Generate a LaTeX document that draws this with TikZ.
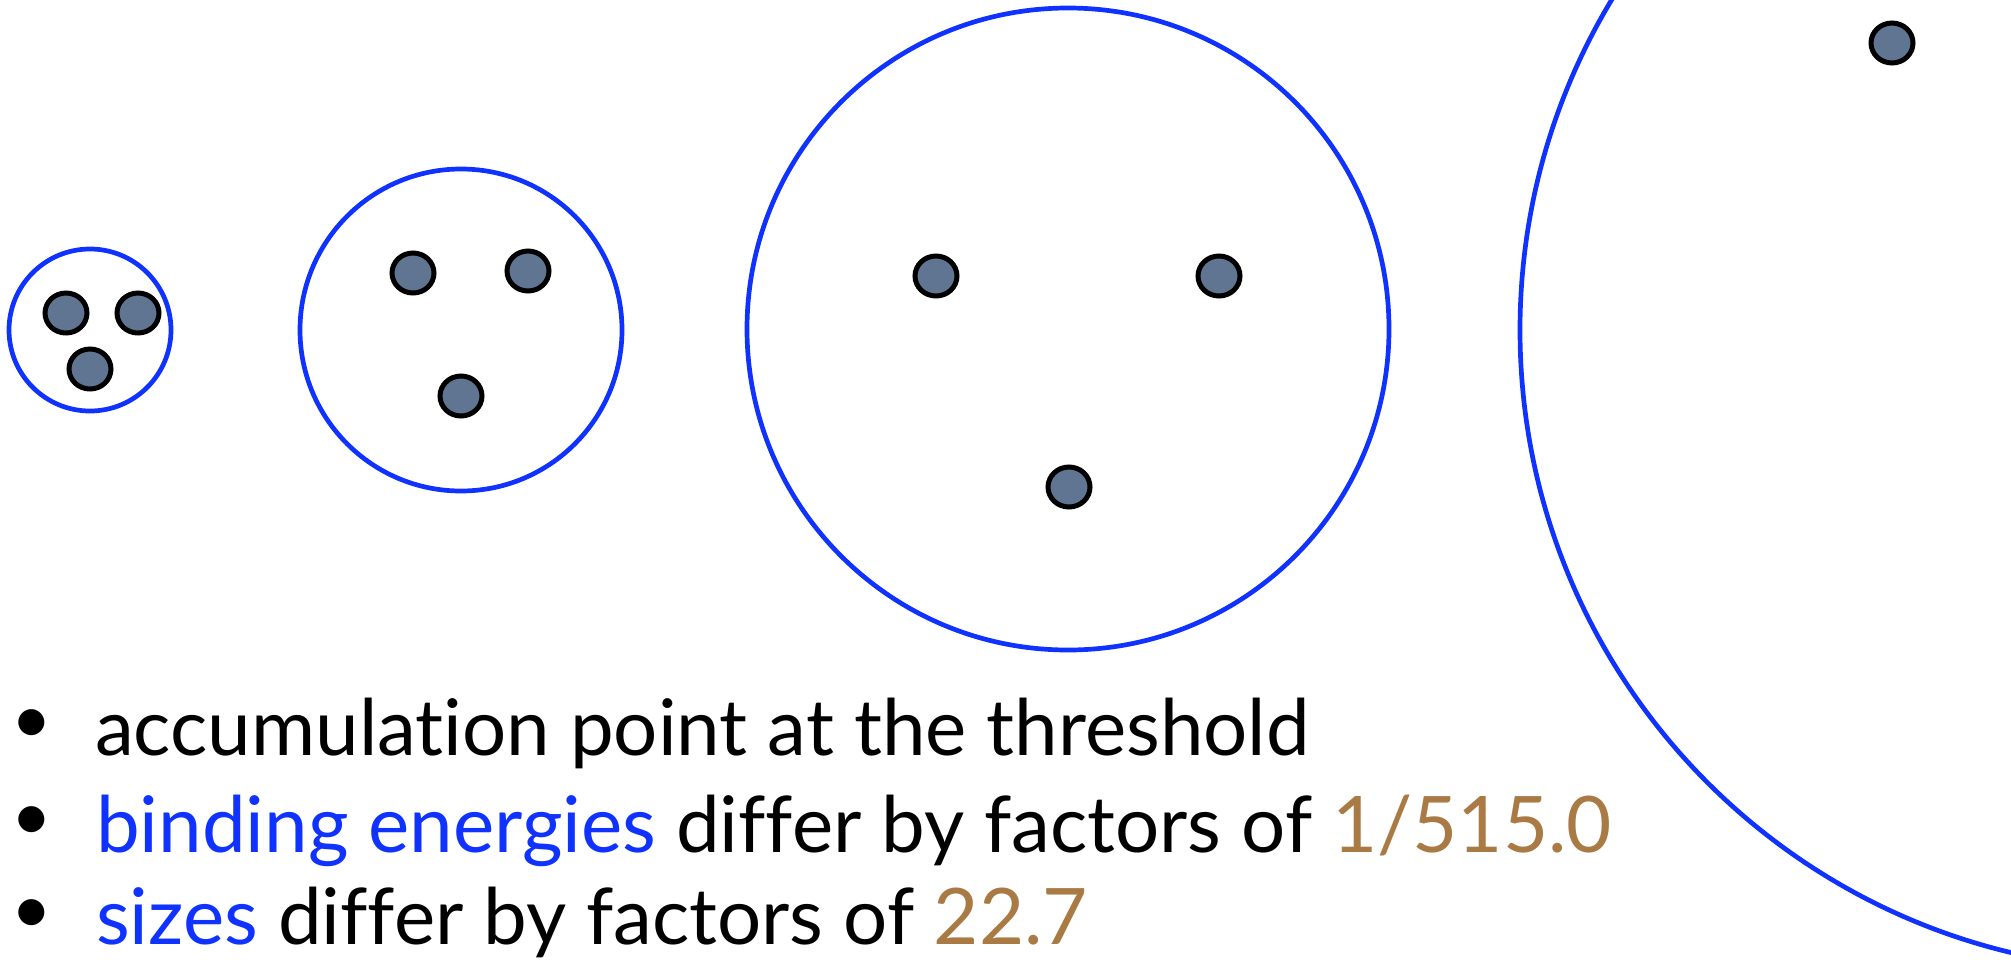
\documentclass[tikz,border=0pt]{standalone}
\usepackage{fontspec}
\setmainfont{Lato}[Ligatures={NoCommon}]
\usetikzlibrary{shapes.geometric}
\definecolor{ringblue}{RGB}{16,50,255}
\definecolor{numbrown}{RGB}{169,122,68}
\definecolor{dotfill}{RGB}{95,117,145}
\begin{document}
\begin{tikzpicture}[x=1pt,y=-1pt,
  ring/.style={circle, draw=ringblue, line width=4.7pt, inner sep=0pt, minimum size=#1},
  dot/.style={ellipse, draw=black, fill=dotfill, line width=5pt, inner sep=0pt, minimum width=42pt, minimum height=40pt},
  txt/.style={anchor=base west, inner sep=0pt, font=\fontsize{78}{96}\selectfont},
  bul/.style={anchor=center, inner sep=0pt, font=\fontsize{70}{96}\selectfont}]
\useasboundingbox (0,0) rectangle (2011,959);
\clip (0,0) rectangle (2011,959);
% rings
\node[ring=162pt] (r1) at (90,330) {};
\node[ring=322pt] (r2) at (461,330) {};
\node[ring=642pt] (r3) at (1068,329) {};
\node[ring=1280pt] (r4) at (2160,330) {};
% dots
\node[dot] (d11) at (66,313) {};
\node[dot] (d12) at (138,313) {};
\node[dot] (d13) at (90,369) {};
\node[dot] (d21) at (413,273) {};
\node[dot] (d22) at (528,271) {};
\node[dot] (d23) at (461,396) {};
\node[dot] (d31) at (936,276) {};
\node[dot] (d32) at (1219,276) {};
\node[dot] (d33) at (1069,487) {};
\node[dot] (d41) at (1892,43) {};
% text
\node[bul] (b1) at (32,727) {•};
\node[bul] (b2) at (32,824) {•};
\node[bul] (b3) at (32,917) {•};
\node[txt] (t1) at (95,755) {accumulation point at the threshold};
\node[txt] (t2) at (96,852) {{\color{ringblue}binding energies} differ by factors of {\color{numbrown}1/515.0}};
\node[txt] (t3) at (96,944) {{\color{ringblue}sizes} differ by factors of {\color{numbrown}22.7}};
\end{tikzpicture}
\end{document}
